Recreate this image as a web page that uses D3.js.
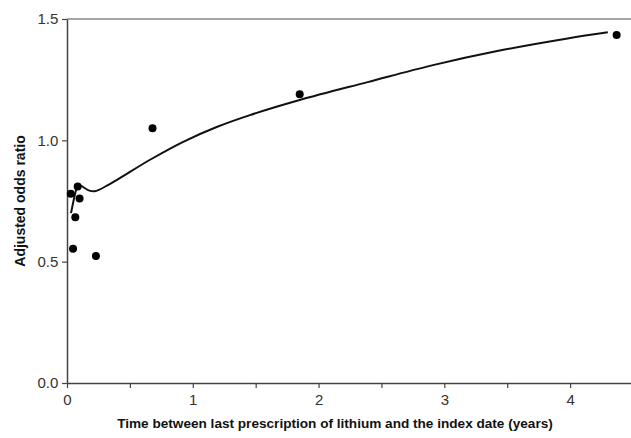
<!DOCTYPE html>
<html>
<head>
<meta charset="utf-8">
<script src="https://cdn.jsdelivr.net/npm/d3@7"></script>
<style>
  body { margin: 0; background: #fff; }
  text { font-family: 'Liberation Sans', Arial, sans-serif; }
</style>
</head>
<body>
<div id="app"></div>
<script>
// observed points (years, adjusted OR)
const pointX = [0.03, 0.085, 0.10, 0.066, 0.048, 0.23, 0.68, 1.85, 4.37];
const pointY = [0.78, 0.81, 0.76, 0.683, 0.553, 0.523, 1.05, 1.19, 1.434];

// fitted curve
const curveX = [0.032, 0.072, 0.087, 0.12, 0.167, 0.22, 0.34, 0.66, 0.92, 1.19, 1.455, 1.85, 2.39, 2.91, 3.44, 3.98, 4.30];
const curveY = [0.70, 0.795, 0.816, 0.81, 0.795, 0.79, 0.82, 0.92, 0.993, 1.055, 1.104, 1.166, 1.24, 1.31, 1.37, 1.42, 1.445];

const xTicks = [0, 1, 2, 3, 4];
const xMinor = [0.5, 1.5, 2.5, 3.5, 4.5];
const yTicks = [0, 0.5, 1.0, 1.5];

const svg = d3.select('#app').append('svg')
    .attr('width', 631)
    .attr('height', 438);

const x = d3.scaleLinear().domain([0, 4.5]).range([67, 633]);
const y = d3.scaleLinear().domain([0, 1.5]).range([383, 19]);

// frame (right side runs off the picture)
svg.append('line')
    .attr('x1', x(0)).attr('x2', 631)
    .attr('y1', y(1.5)).attr('y2', y(1.5))
    .attr('stroke', '#888').attr('stroke-width', 1.5);

const xAxis = svg.append('g')
    .attr('transform', `translate(0,${y(0)})`)
    .call(d3.axisBottom(x).tickValues(xTicks).tickFormat(d3.format('d')).tickSize(5).tickSizeOuter(0));

svg.append('g')
    .attr('transform', `translate(0,${y(0)})`)
    .call(d3.axisBottom(x).tickValues(xMinor).tickFormat('').tickSize(5).tickSizeOuter(0))
    .select('.domain').remove();

const yAxis = svg.append('g')
    .attr('transform', `translate(${x(0)},0)`)
    .call(d3.axisLeft(y).tickValues(yTicks).tickFormat(d3.format('.1f')).tickSize(5).tickSizeOuter(0));

svg.selectAll('.domain').attr('stroke', '#444').attr('stroke-width', 1.5);
svg.selectAll('.tick line').attr('stroke', '#444').attr('stroke-width', 1.2);
svg.selectAll('.tick text')
    .attr('font-size', 15)
    .attr('fill', '#333')
    .style('font-family', "'Liberation Sans', Arial, sans-serif");
xAxis.selectAll('.tick text').attr('dy', '0.95em');
yAxis.selectAll('.tick text').attr('dx', '-0.05em');

// fitted curve
const line = d3.line()
    .x(d => x(d[0]))
    .y(d => y(d[1]))
    .curve(d3.curveCatmullRom.alpha(0.5));

svg.append('path')
    .datum(d3.zip(curveX, curveY))
    .attr('fill', 'none')
    .attr('stroke', '#111')
    .attr('stroke-width', 2)
    .attr('d', line);

svg.selectAll('.pt')
    .data(d3.zip(pointX, pointY))
    .enter().append('circle')
    .attr('class', 'pt')
    .attr('cx', d => x(d[0]))
    .attr('cy', d => y(d[1]))
    .attr('r', 4)
    .attr('fill', '#000');

svg.append('text')
    .attr('x', 335)
    .attr('y', 428)
    .attr('text-anchor', 'middle')
    .attr('font-size', 13.6)
    .attr('font-weight', 'bold')
    .attr('fill', '#111')
    .text('Time between last prescription of lithium and the index date (years)');

svg.append('text')
    .attr('transform', 'translate(25,201) rotate(-90)')
    .attr('text-anchor', 'middle')
    .attr('font-size', 14)
    .attr('font-weight', 'bold')
    .attr('fill', '#111')
    .text('Adjusted odds ratio');
</script>
</body>
</html>
